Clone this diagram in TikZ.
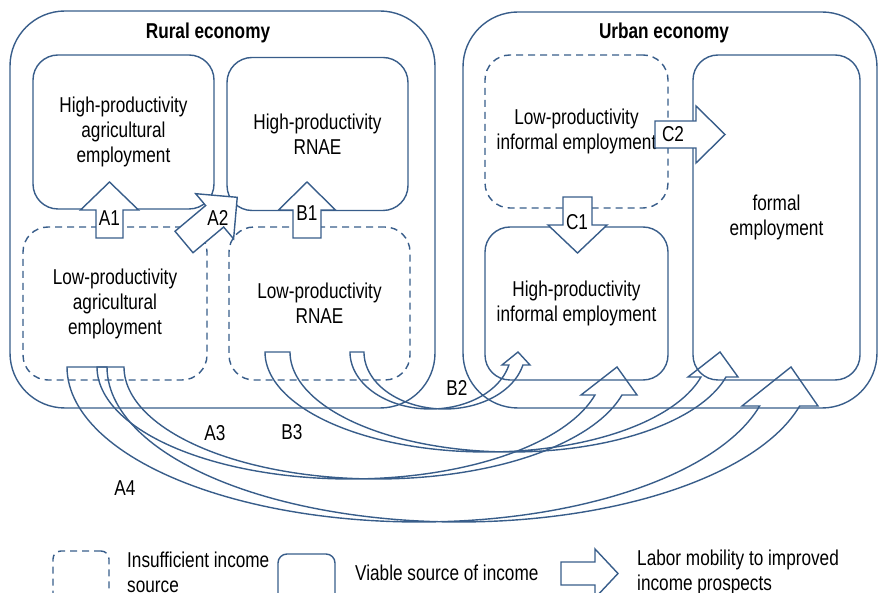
\documentclass[tikz,border=0pt]{standalone}
\usepackage{fontspec}
\setmainfont{Liberation Sans}[FakeStretch=0.8]
\definecolor{lineblue}{RGB}{56,93,138}

% straight block arrow: tail at the scope origin, pointing along +x
% #1 scope options, #2 head base, #3 tip, #4 shaft half width, #5 head half width
\newcommand\mobarrow[5]{%
  \begin{scope}[#1]
    \draw[blockarrow] (0,-#4) -- (#2,-#4) -- (#2,-#5) -- (#3,0) -- (#2,#5)
      -- (#2,#4) -- (0,#4) -- cycle;
  \end{scope}}

% curved up arrow built from two shifted half ellipses
% #1 cx, #2 cy, #3 x radius, #4 y radius, #5 band shift, #6 drop of the head base,
% #7 head left x, #8 tip, #9 head right x
\newcommand\bentarrow[9]{%
  \pgfmathsetmacro\bendang{asin(#6/#4)}%
  \draw[bentband]
    plot[domain=180:\bendang, samples=100, variable=\t] ({#1+#3*cos(\t)},{#2+#4*sin(\t)})
    -- (#7,#2+#6) -- #8 -- (#9,#2+#6)
    -- plot[domain=\bendang:180, samples=100, variable=\t] ({#1+#5+#3*cos(\t)},{#2+#4*sin(\t)})
    -- cycle;}

\begin{document}
\begin{tikzpicture}[x=1pt,y=-1pt,
  every node/.style={font=\fontsize{21.5}{25}\selectfont, align=center, inner sep=0pt},
  heading/.style={font=\fontsize{21.5}{25}\selectfont\bfseries},
  outline/.style={draw=lineblue, line width=1.4pt},
  solidbox/.style={outline, rounded corners=25pt},
  weakbox/.style={solidbox, dash pattern=on 7pt off 5pt},
  sectorbox/.style={outline, rounded corners=55pt},
  blockarrow/.style={outline, fill=white, line join=miter},
  bentband/.style={outline, line join=miter}]

\useasboundingbox (0,0) rectangle (879,593);
\clip (0,0) rectangle (879,593);

% sectors
\node[sectorbox, minimum width=425pt, minimum height=397pt] (rural) at (222.5,209.5) {};
\node[sectorbox, minimum width=414pt, minimum height=396pt] (urban) at (670,210) {};
\node[heading] (ruraltitle) at (208,33) {Rural economy};
\node[heading] (urbantitle) at (664,33) {Urban economy};

% employment types
\node[solidbox, minimum width=181pt, minimum height=154pt] (hpa) at (123.5,132)
  {High-productivity\\agricultural\\employment};
\node[solidbox, minimum width=181pt, minimum height=153pt] (hpr) at (317.5,134)
  {High-productivity\\RNAE};
\node[weakbox, minimum width=184pt, minimum height=153pt] (lpa) at (115,303.5)
  {Low-productivity\\agricultural\\employment};
\node[weakbox, minimum width=181pt, minimum height=153pt] (lpr) at (319.5,303.5)
  {Low-productivity\\RNAE};
\node[weakbox, minimum width=183pt, minimum height=153pt] (lpi) at (576.5,131.5)
  {Low-productivity\\informal employment};
\node[solidbox, minimum width=183pt, minimum height=153pt] (hpi) at (576.5,303.5)
  {High-productivity\\informal employment};
\node[solidbox, minimum width=167pt, minimum height=325pt] (fe) at (776.5,217.5)
  {formal\\employment};

% long-range moves out of the rural economy
\bentarrow{419}{367}{352}{155}{40}{39}{742}{(791,367)}{818}
\bentarrow{350}{367}{253}{112}{27}{28}{581}{(617,367)}{637}
\bentarrow{486.5}{352}{221.5}{100}{25}{25}{688}{(720,352)}{738}
\bentarrow{430.5}{352}{80.5}{57}{14}{13}{502}{(518,352)}{530}

% short moves between neighbouring boxes
\mobarrow{shift={(109.5,238)}, rotate=90}{28}{56}{13.5}{29}
\mobarrow{shift={(184,242)}, rotate=40}{40}{69.5}{14}{29.5}
\mobarrow{shift={(307,238)}, rotate=90}{28}{56}{14}{28.5}
\mobarrow{shift={(577.5,197)}, rotate=-90}{28}{56}{14.5}{29.5}
\mobarrow{shift={(655,134.5)}}{41}{70}{13.5}{28.5}

\node (lA1) at (109.5,218) {A1};
\node (lA2) at (218,218) {A2};
\node (lB1) at (307,213) {B1};
\node (lC1) at (577,222) {C1};
\node (lC2) at (673,134) {C2};
\node (lB2) at (457,388) {B2};
\node (lA3) at (215,433) {A3};
\node (lB3) at (292,432) {B3};
\node (lA4) at (125,488) {A4};

% legend
\node[outline, dash pattern=on 7pt off 5pt, rounded corners=8pt,
  minimum width=56pt, minimum height=50pt] (legweak) at (81,576) {};
\node[anchor=west, align=left] (legweaktxt) at (127,572.5) {Insufficient income\\source};
\node[outline, rounded corners=9pt, minimum width=57pt, minimum height=48pt] (legsolid) at (306.5,578) {};
\node[anchor=west] (legsolidtxt) at (355,573) {Viable source of income};
\mobarrow{shift={(561,573.5)}}{34}{57}{11.5}{24.5}
\node[anchor=west, align=left] (legarrowtxt) at (637,572.5) {Labor mobility to improved\\income prospects};
\end{tikzpicture}
\end{document}
